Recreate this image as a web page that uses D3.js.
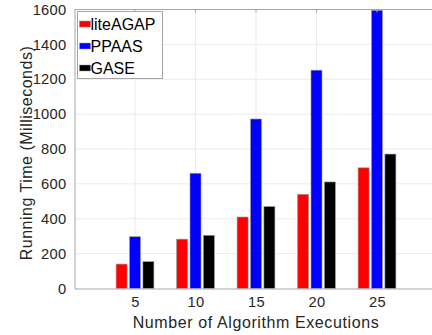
<!DOCTYPE html>
<html>
<head>
<meta charset="utf-8">
<script src="https://cdn.jsdelivr.net/npm/d3@7"></script>
<style>
  html, body { margin: 0; padding: 0; background: #fff; }
  svg { display: block; font-family: "Liberation Sans", Arial, sans-serif; }
</style>
</head>
<body>
<svg id="chart" width="432" height="335"></svg>
<script>
// Running time per number of algorithm executions
const executions = [5, 10, 15, 20, 25];
const liteAGAP = [140, 283, 410, 540, 692];
const PPAAS = [297, 661, 972, 1252, 1595];
const GASE = [154, 305, 470, 611, 771];
const seriesNames = ["liteAGAP", "PPAAS", "GASE"];
const seriesColors = ["#ff0000", "#0000ff", "#000000"];
const yTicks = [0, 200, 400, 600, 800, 1000, 1200, 1400, 1600];

(function draw() {
  const series = [liteAGAP, PPAAS, GASE];

  const svg = d3.select("#chart");
  const plotLeft = 74.5, plotTop = 9.5, plotBottom = 288.5;
  const x = d3.scaleLinear().domain([0, 30]).range([plotLeft, plotLeft + 363]);
  const y = d3.scaleLinear().domain([0, 1600]).range([plotBottom, plotTop]);
  const barW = 11, barStep = 13.4;
  const textColor = "#262626";
  const axisColor = "#a6a6a6";
  const fontFam = "Liberation Sans, Arial, sans-serif";

  // grid
  const grid = svg.append("g");
  grid.selectAll("line.gy").data(yTicks.slice(1)).join("line").attr("class", "gy")
    .attr("x1", plotLeft).attr("x2", 432)
    .attr("y1", d => y(d)).attr("y2", d => y(d))
    .attr("stroke", "#ebebeb").attr("stroke-width", 1);
  grid.selectAll("line.gx").data(executions).join("line").attr("class", "gx")
    .attr("x1", d => x(d)).attr("x2", d => x(d))
    .attr("y1", plotTop).attr("y2", plotBottom)
    .attr("stroke", "#ebebeb").attr("stroke-width", 1);

  // bars
  series.forEach((vals, si) => {
    svg.append("g").selectAll("rect").data(vals).join("rect")
      .attr("x", (d, i) => x(executions[i]) + (si - 1) * barStep - barW / 2)
      .attr("y", d => y(d))
      .attr("width", barW)
      .attr("height", d => plotBottom - y(d))
      .attr("fill", seriesColors[si])
      .attr("stroke", "#9a9a9a").attr("stroke-width", 0.6);
  });

  // axes
  const yAxis = d3.axisLeft(y).tickValues(yTicks).tickFormat(d3.format("d"))
    .tickSize(0).tickPadding(8);
  const gy = svg.append("g").attr("transform", `translate(${plotLeft},0)`).call(yAxis);
  gy.select(".domain").attr("stroke", axisColor);
  gy.selectAll("text").attr("font-size", 14.7).attr("fill", textColor)
    .attr("font-family", fontFam).attr("letter-spacing", 0.3);

  const xAxis = d3.axisBottom(x).tickValues(executions).tickSize(0).tickPadding(8);
  const gx = svg.append("g").attr("transform", `translate(0,${plotBottom})`).call(xAxis);
  gx.select(".domain").attr("stroke", axisColor);
  gx.selectAll("text").attr("font-size", 14.7).attr("fill", textColor)
    .attr("font-family", fontFam).attr("letter-spacing", 0.3);

  // top frame with small inward ticks
  svg.append("line").attr("x1", plotLeft).attr("x2", 432).attr("y1", plotTop).attr("y2", plotTop)
    .attr("stroke", axisColor);
  svg.append("g").selectAll("line").data(executions).join("line")
    .attr("x1", d => x(d)).attr("x2", d => x(d))
    .attr("y1", plotTop).attr("y2", plotTop + 3).attr("stroke", axisColor);

  // axis titles
  svg.append("text")
    .attr("x", 256).attr("y", 327.5)
    .attr("text-anchor", "middle").attr("font-size", 16).attr("fill", textColor)
    .attr("letter-spacing", 0.6)
    .text("Number of Algorithm Executions");
  svg.append("text")
    .attr("transform", `translate(32,${(plotTop + plotBottom) / 2 + 4}) rotate(-90)`)
    .attr("text-anchor", "middle").attr("font-size", 16).attr("fill", textColor)
    .attr("letter-spacing", 0.5)
    .text("Running Time (Milliseconds)");

  // legend
  const lg = svg.append("g").attr("transform", "translate(77.5,11.5)");
  lg.append("rect").attr("width", 85).attr("height", 67)
    .attr("fill", "#fff").attr("stroke", "#a6a6a6").attr("stroke-width", 1);
  seriesNames.forEach((name, i) => {
    const cy = 12.5 + i * 22;
    lg.append("rect").attr("x", 2).attr("y", cy - 3).attr("width", 11).attr("height", 6)
      .attr("fill", seriesColors[i]).attr("stroke", "#9a9a9a").attr("stroke-width", 0.5);
    lg.append("text").attr("x", 13).attr("y", cy + 6)
      .attr("font-size", 16).attr("fill", "#000").text(name);
  });
})();
</script>
</body>
</html>
